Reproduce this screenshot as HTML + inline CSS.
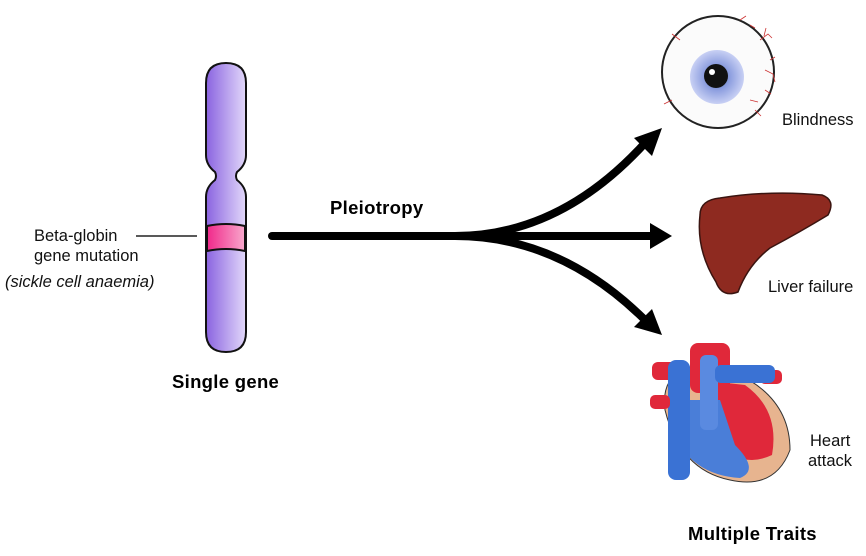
<!DOCTYPE html>
<html><head><style>
body{margin:0;background:#fff;width:866px;height:556px;overflow:hidden;font-family:"Liberation Sans",sans-serif}
.t{position:absolute;font-size:16.5px;color:#111;line-height:19px}
.b{position:absolute;font-weight:bold;font-size:18.5px;color:#000;letter-spacing:0.3px}
</style></head><body>
<svg width="866" height="556" style="position:absolute;left:0;top:0">
<defs>
<linearGradient id="cg" x1="0" x2="1"><stop offset="0" stop-color="#8a63e0"/><stop offset="1" stop-color="#e2d8fa"/></linearGradient>
<linearGradient id="pg" x1="0" x2="1"><stop offset="0" stop-color="#f0288a"/><stop offset="1" stop-color="#f8a8cc"/></linearGradient>
<radialGradient id="ir"><stop offset="0" stop-color="#4a6ab0"/><stop offset="0.5" stop-color="#8fa0e0"/><stop offset="1" stop-color="#c8d0f4"/></radialGradient>
</defs>
<path d="M206,83 Q206,63 226,63 Q246,63 246,83 L246,155 Q246,165 237,172 Q235,176 237,180 Q246,187 246,197 L246,332 Q246,352 226,352 Q206,352 206,332 L206,197 Q206,187 215,180 Q217,176 215,172 Q206,165 206,155 Z" fill="url(#cg)" stroke="#111" stroke-width="2"/>
<path d="M207,226 Q226,222 245,226 L245,251 Q226,247 207,251 Z" fill="url(#pg)" stroke="#111" stroke-width="2"/>
<line x1="136" y1="236" x2="197" y2="236" stroke="#222" stroke-width="1.5"/>
<g stroke="#000" stroke-width="8" fill="none" stroke-linecap="round">
<path d="M272,236 L460,236"/>
<path d="M455,236 Q560,236 645,143"/>
<path d="M455,236 L655,236"/>
<path d="M455,236 Q560,236 645,320"/>
</g>
<polygon points="662,128 634,138 652,156" fill="#000"/>
<polygon points="672,236 650,223 650,249" fill="#000"/>
<polygon points="662,335 634,327 652,309" fill="#000"/>
<circle cx="718" cy="72" r="56" fill="#fbfbfb" stroke="#222" stroke-width="2"/>
<circle cx="717" cy="77" r="27" fill="url(#ir)"/>
<circle cx="716" cy="76" r="12" fill="#111"/>
<circle cx="712" cy="72" r="3" fill="#fff"/>
<g stroke="#c33" stroke-width="0.8" fill="none">
<path d="M760,40 l8,-6 l4,4 M764,36 l2,-8"/><path d="M765,70 l8,4 l2,8 M770,60 l5,-3"/><path d="M755,110 l6,6 M750,100 l8,2"/><path d="M680,40 l-8,-6"/><path d="M672,100 l-8,4"/><path d="M740,20 l6,-4 M750,25 l5,3"/><path d="M765,90 l6,4"/>
</g>
<path d="M700,215 Q700,200 720,198 Q770,190 822,195 Q836,200 828,215 Q800,232 770,248 Q748,265 738,292 Q722,298 716,282 Q696,250 700,215 Z" fill="#8e2a20" stroke="#3a1410" stroke-width="1.5"/>
<path d="M665,410 Q660,370 700,365 L740,375 Q790,400 790,450 Q775,490 730,480 Q680,470 665,410 Z" fill="#e7b48f" stroke="#333"/>
<path d="M700,380 L745,385 Q780,410 772,455 Q740,470 720,440 Z" fill="#e0283a"/>
<rect x="690" y="343" width="40" height="50" rx="8" fill="#e0283a"/>
<rect x="652" y="362" width="26" height="18" rx="6" fill="#e0283a"/><rect x="760" y="370" width="22" height="14" rx="5" fill="#e0283a"/>
<path d="M672,400 L720,400 L735,445 Q760,470 740,478 Q690,475 672,430 Z" fill="#4a7ed8"/>
<rect x="668" y="360" width="22" height="120" rx="8" fill="#3a72d4"/>
<rect x="650" y="395" width="20" height="14" rx="5" fill="#e0283a"/>
<rect x="700" y="355" width="18" height="75" rx="6" fill="#5a8ae0"/>
<rect x="715" y="365" width="60" height="18" rx="6" fill="#3a72d4"/>
</svg>
<div class="t" style="left:34px;top:227px">Beta-globin</div>
<div class="t" style="left:34px;top:247px">gene mutation</div>
<div class="t" style="left:5px;top:273px;font-style:italic">(sickle cell anaemia)</div>
<div class="b" style="left:172px;top:371px">Single gene</div>
<div class="b" style="left:330px;top:197px">Pleiotropy</div>
<div class="t" style="left:782px;top:111px">Blindness</div>
<div class="t" style="left:768px;top:278px">Liver failure</div>
<div class="t" style="left:810px;top:432px">Heart</div>
<div class="t" style="left:808px;top:452px">attack</div>
<div class="b" style="left:688px;top:523px">Multiple Traits</div>
</body></html>
